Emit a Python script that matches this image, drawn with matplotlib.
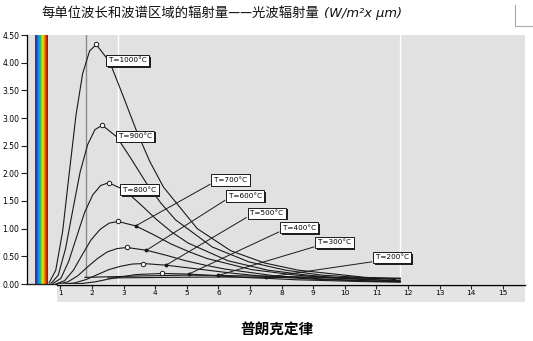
import matplotlib
matplotlib.use("Agg")
import matplotlib.pyplot as plt
import matplotlib.patheffects as pe
from matplotlib.colors import LinearSegmentedColormap
from matplotlib.lines import Line2D
import numpy as np

# spectral exitance curves, wavelength in um
x1000 = [0.64, 0.85, 1.07, 1.28, 1.49, 1.70, 1.92, 2.13, 2.56, 2.98, 3.41, 3.83, 4.26, 5.33, 6.39, 7.46, 8.52, 10.65, 11.75]
y1000 = [0.02, 0.25, 0.96, 2.02, 3.05, 3.80, 4.21, 4.33, 4.01, 3.40, 2.76, 2.21, 1.75, 1.00, 0.60, 0.38, 0.25, 0.12, 0.09]
x900 = [0.70, 0.93, 1.16, 1.39, 1.62, 1.86, 2.09, 2.32, 2.78, 3.25, 3.71, 4.18, 4.64, 5.80, 6.96, 8.12, 9.28, 11.60]
y900 = [0.01, 0.16, 0.64, 1.34, 2.02, 2.52, 2.79, 2.87, 2.66, 2.25, 1.83, 1.46, 1.16, 0.67, 0.40, 0.25, 0.16, 0.08]
x800 = [0.76, 1.01, 1.26, 1.51, 1.76, 2.02, 2.27, 2.52, 3.02, 3.53, 4.03, 4.54, 5.04, 6.30, 7.56, 8.82, 10.08, 11.75]
y800 = [0.01, 0.10, 0.41, 0.85, 1.29, 1.61, 1.78, 1.83, 1.70, 1.44, 1.17, 0.93, 0.74, 0.42, 0.25, 0.16, 0.10, 0.06]
x700 = [0.85, 1.13, 1.41, 1.69, 1.97, 2.26, 2.54, 2.82, 3.38, 3.95, 4.51, 5.08, 5.64, 7.05, 8.46, 9.87, 11.28, 11.75]
y700 = [0.00, 0.06, 0.25, 0.53, 0.80, 0.99, 1.10, 1.13, 1.05, 0.89, 0.72, 0.58, 0.46, 0.26, 0.16, 0.10, 0.064, 0.055]
x600 = [0.93, 1.24, 1.55, 1.86, 2.17, 2.48, 2.79, 3.10, 3.72, 4.34, 4.96, 5.58, 6.20, 7.75, 9.30, 10.85, 11.75]
y600 = [0.00, 0.04, 0.15, 0.31, 0.46, 0.58, 0.64, 0.66, 0.61, 0.52, 0.42, 0.34, 0.27, 0.15, 0.09, 0.057, 0.044]
x500 = [1.09, 1.45, 1.81, 2.17, 2.53, 2.90, 3.26, 3.62, 4.34, 5.07, 5.79, 6.52, 7.24, 9.05, 10.86, 11.75]
y500 = [0.00, 0.02, 0.08, 0.17, 0.26, 0.32, 0.36, 0.37, 0.34, 0.29, 0.24, 0.19, 0.15, 0.086, 0.051, 0.040]
x400 = [1.27, 1.69, 2.11, 2.53, 2.95, 3.38, 3.80, 4.22, 5.06, 5.91, 6.75, 7.60, 8.44, 10.55, 11.75]
y400 = [0.00, 0.01, 0.04, 0.09, 0.13, 0.17, 0.18, 0.19, 0.18, 0.15, 0.12, 0.10, 0.077, 0.044, 0.033]
x300 = [1.77, 2.5, 3.5, 4.5, 5.0, 6.0, 7.0, 8.0, 9.0, 10.0, 11.75]
y300 = [0.12, 0.13, 0.145, 0.155, 0.16, 0.155, 0.145, 0.135, 0.125, 0.115, 0.105]
x200 = [2.5, 3.5, 4.5, 5.5, 6.5, 7.5, 8.5, 9.5, 10.5, 11.75]
y200 = [0.11, 0.115, 0.12, 0.125, 0.125, 0.12, 0.115, 0.11, 0.105, 0.10]

curves = [(x1000, y1000), (x900, y900), (x800, y800), (x700, y700), (x600, y600),
          (x500, y500), (x400, y400), (x300, y300), (x200, y200)]
labels = ["T=1000°C", "T=900°C", "T=800°C", "T=700°C", "T=600°C",
          "T=500°C", "T=400°C", "T=300°C", "T=200°C"]
# label box centres and the curve point each leader points to (None = no leader)
label_pos = [(3.12, 4.04), (3.37, 2.67), (3.50, 1.70), (6.38, 1.88), (6.85, 1.59),
             (7.53, 1.28), (8.56, 1.02), (9.67, 0.75), (11.50, 0.48)]
leader_x = [None, None, None, 3.38, 3.72, 4.34, 5.06, 6.0, 7.5]
peak_marked = [True, True, True, True, True, True, True, False, False]

x_ticks = list(range(1, 16))
y_ticks = [0.0, 0.5, 1.0, 1.5, 2.0, 2.5, 3.0, 3.5, 4.0, 4.5]

W, H = 533, 341
fig = plt.figure(figsize=(W / 100, H / 100), dpi=100)
fig.patch.set_facecolor("white")

XMIN, XMAX = -0.06, 15.70

def fx(px):
    return px / W

def fy(py):
    return 1 - py / H

ax = fig.add_axes([fx(27), fy(284), fx(525) - fx(27), fy(35) - fy(284)])
ax.set_facecolor("#e1e1e1")
ax.set_xlim(XMIN, XMAX)
ax.set_ylim(0, 4.5)

# rainbow strip of the visible band
rainbow = LinearSegmentedColormap.from_list(
    "rainbow_band",
    ["#3b2c8c", "#2846c8", "#0aa0e0", "#28c050", "#e8e400", "#f4a000", "#e03010", "#801818"])
ax.imshow(np.linspace(0, 1, 64).reshape(1, -1), cmap=rainbow, aspect="auto",
          extent=[0.19, 0.60, 0, 4.5], zorder=1)

# reference lines
ax.plot([1.80, 1.80], [0.12, 4.5], color="#8c8c8c", lw=1.0, zorder=1)
ax.plot([2.82, 2.82], [0, 4.5], color="white", lw=1.0, zorder=1)
ax.plot([11.74, 11.74], [0.12, 4.5], color="white", lw=1.0, zorder=1)

for (xs, ys), lab, (bx, by), lx, mk in zip(curves, labels, label_pos, leader_x, peak_marked):
    ax.plot(xs, ys, color="#1a1a1a", lw=0.8, zorder=3)
    if mk:
        ip = int(np.argmax(ys))
        ax.plot(xs[ip], ys[ip], "o", ms=3.2, mfc="white", mec="#1a1a1a", mew=0.7, zorder=4)
    if lx is not None:
        j = xs.index(lx)
        ax.plot([xs[j], bx - 0.65], [ys[j], by - 0.08], color="#1a1a1a", lw=0.7, zorder=3)
        ax.plot(xs[j], ys[j], "o", ms=1.8, color="#1a1a1a", zorder=4)
    t = ax.text(bx, by, lab, fontsize=5.2, ha="center", va="center", zorder=6,
                bbox=dict(boxstyle="square,pad=0.35", fc="white", ec="#1a1a1a", lw=0.7))
    t.get_bbox_patch().set_path_effects(
        [pe.SimplePatchShadow(offset=(1.2, -1.2), shadow_rgbFace="#202020", alpha=1.0), pe.Normal()])

ax.set_yticks(y_ticks)
ax.set_yticklabels(["%.2f" % v for v in y_ticks])
ax.set_xticks([])
ax.tick_params(axis="y", length=4, width=0.8, labelsize=5.5, pad=1.5, color="#222222")
for s in ["top", "right", "bottom"]:
    ax.spines[s].set_visible(False)
ax.spines["left"].set_linewidth(0.9)
ax.plot([XMIN, 0.9], [0, 0], color="#222222", lw=1.0, clip_on=False, zorder=5)

# separate wavelength scale under the plot
ax2 = fig.add_axes([fx(57), fy(302), fx(525) - fx(57), fy(285) - fy(302)])
ax2.set_facecolor("#e4e4e4")
ax2.set_xlim((57 - 27) / (525 - 27) * (XMAX - XMIN) + XMIN, XMAX)
ax2.set_ylim(0, 1)
ax2.set_yticks([])
ax2.set_xticks(x_ticks)
ax2.set_xticklabels([str(v) for v in x_ticks])
ax2.tick_params(axis="x", top=True, bottom=False, direction="in", length=3, width=0.8,
                labelsize=5.3, pad=-8.5, color="#222222")
for s in ["left", "right", "bottom"]:
    ax2.spines[s].set_visible(False)
ax2.spines["top"].set_linewidth(1.0)

cjk = ["Noto Sans CJK SC", "DejaVu Sans"]
title = fig.text(fx(42), fy(13), "每单位波长和波谱区域的辐射量——光波辐射量", family=cjk,
                 fontsize=9.6, ha="left", va="center", color="#111111")
fig.canvas.draw()
bb = title.get_window_extent()
fig.text(bb.x1 / W + 0.008, fy(13), "(W/m²x μm)", family="DejaVu Sans", style="italic",
         fontsize=9.4, ha="left", va="center", color="#111111")

fig.text(fx(277), fy(329), "普朗克定律", family=cjk, fontsize=10.5, fontweight="bold",
         ha="center", va="center", color="black")

# small corner mark at the top right
fig.add_artist(Line2D([fx(515), fx(515), fx(533)], [fy(5), fy(26), fy(26)],
                      color="#a8a8a8", lw=0.8))

fig.savefig("out.png", dpi=100, facecolor="white")
